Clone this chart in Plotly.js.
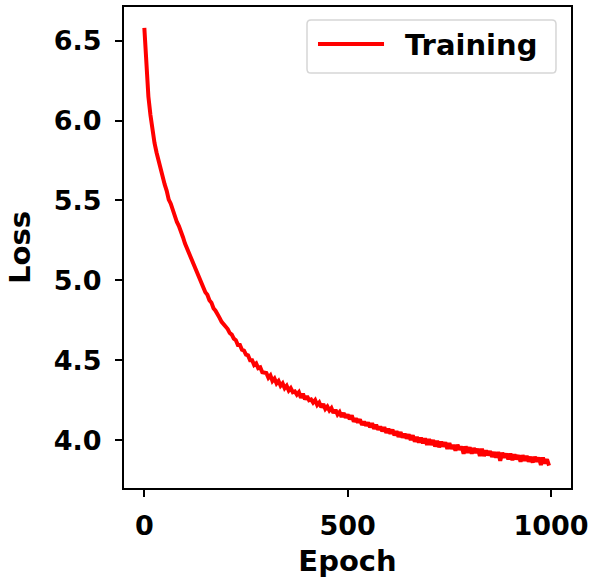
<!DOCTYPE html>
<html>
<head>
<meta charset="utf-8">
<script src="https://cdn.plot.ly/plotly-3.0.1.min.js"></script>
<style>html,body{margin:0;padding:0;background:#fff;}#chart{width:593px;height:579px;}</style>
</head>
<body>
<div id="chart"></div>
<script>
const lossValues = [
  6.580, 6.300, 6.150, 6.035, 5.925, 5.860, 5.800, 5.745, 5.690, 5.650,
  5.600, 5.560, 5.505, 5.480, 5.435, 5.410, 5.365, 5.340, 5.295, 5.270,
  5.230, 5.200, 5.165, 5.145, 5.105, 5.085, 5.045, 5.025, 4.980, 4.965,
  4.925, 4.910, 4.875, 4.860, 4.825, 4.810, 4.780, 4.765, 4.740, 4.725,
  4.705, 4.695, 4.670, 4.660, 4.635, 4.625, 4.595, 4.595, 4.565, 4.560,
  4.535, 4.530, 4.500, 4.500, 4.470, 4.480, 4.450, 4.455, 4.425, 4.420,
  4.420, 4.390, 4.405, 4.370, 4.385, 4.355, 4.370, 4.340, 4.355, 4.325,
  4.340, 4.310, 4.325, 4.300, 4.305, 4.285, 4.300, 4.265, 4.290, 4.255,
  4.275, 4.250, 4.255, 4.235, 4.250, 4.220, 4.235, 4.205, 4.225, 4.195,
  4.210, 4.185, 4.200, 4.170, 4.190, 4.160, 4.175, 4.145, 4.170, 4.140,
  4.160, 4.130, 4.155, 4.115, 4.135, 4.110, 4.130, 4.095, 4.115, 4.090,
  4.110, 4.080, 4.105, 4.070, 4.095, 4.065, 4.085, 4.055, 4.080, 4.045,
  4.070, 4.040, 4.065, 4.030, 4.055, 4.020, 4.050, 4.015, 4.040, 4.010,
  4.035, 4.000, 4.030, 3.990, 4.020, 3.985, 4.015, 3.980, 4.010, 3.970,
  4.005, 3.970, 4.000, 3.960, 3.995, 3.955, 3.990, 3.960, 3.985, 3.945,
  3.980, 3.945, 3.970, 3.935, 3.970, 3.940, 3.960, 3.915, 3.960, 3.920,
  3.955, 3.915, 3.950, 3.920, 3.945, 3.900, 3.945, 3.900, 3.935, 3.905,
  3.930, 3.895, 3.925, 3.890, 3.925, 3.870, 3.920, 3.890, 3.915, 3.880,
  3.915, 3.875, 3.910, 3.880, 3.905, 3.865, 3.905, 3.870, 3.900, 3.865,
  3.895, 3.860, 3.895, 3.865, 3.890, 3.845, 3.890, 3.855, 3.880, 3.840
];
const epochStep = 5;
const epochs = lossValues.map((_, i) => i * epochStep);

const xTickVals = [0, 500, 1000];
const xTickText = ['0', '500', '1000'];
const yTickVals = [4.0, 4.5, 5.0, 5.5, 6.0, 6.5];
const yTickText = ['4.0', '4.5', '5.0', '5.5', '6.0', '6.5'];
const seriesName = 'Training';

const FONT = 'DejaVu Sans, sans-serif';

const trace = {
  x: epochs, y: lossValues, type: 'scatter', mode: 'lines',
  name: seriesName, line: {color: '#ff0000', width: 4}, showlegend: false
};

// legend box (manual, matplotlib-style rounded frame)
const lx0 = 0.4094, lx1 = 0.9664, ly0 = 0.8627, ly1 = 0.9730;
const rx = 0.009, ry = 0.0085;
const boxPath = `M${lx0+rx},${ly1} L${lx1-rx},${ly1} Q${lx1},${ly1} ${lx1},${ly1-ry} L${lx1},${ly0+ry} Q${lx1},${ly0} ${lx1-rx},${ly0} L${lx0+rx},${ly0} Q${lx0},${ly0} ${lx0},${ly0+ry} L${lx0},${ly1-ry} Q${lx0},${ly1} ${lx0+rx},${ly1} Z`;

const layout = {
  width: 593, height: 579,
  margin: {l: 124, r: 22, t: 7, b: 91},
  paper_bgcolor: '#fff', plot_bgcolor: '#fff',
  showlegend: false,
  xaxis: {
    range: [-50, 1049], tickvals: xTickVals, ticktext: xTickText,
    showgrid: false, zeroline: false, showline: true, mirror: true,
    linecolor: '#000', linewidth: 2, ticks: 'outside', ticklen: 7, tickwidth: 2, tickcolor: '#000',
    tickfont: {family: FONT, size: 27, color: '#000', weight: 'bold'},
    ticklabelstandoff: 6,
    title: {text: '<b>Epoch</b>', font: {family: FONT, size: 29, color: '#000'}, standoff: 10},
    automargin: false
  },
  yaxis: {
    range: [3.700, 6.711], tickvals: yTickVals, ticktext: yTickText,
    showgrid: false, zeroline: false, showline: true, mirror: true,
    linecolor: '#000', linewidth: 2, ticks: 'outside', ticklen: 7, tickwidth: 2, tickcolor: '#000',
    tickfont: {family: FONT, size: 27, color: '#000', weight: 'bold'},
    ticklabelstandoff: 8,
    title: {text: '<b>Loss</b>', font: {family: FONT, size: 29, color: '#000'}, standoff: 15},
    automargin: false
  },
  shapes: [
    {type: 'path', xref: 'paper', yref: 'paper', path: boxPath,
     line: {color: '#d6d6d6', width: 1.5}, fillcolor: 'rgba(255,255,255,0.8)', layer: 'above'},
    {type: 'line', xref: 'paper', yref: 'paper', x0: 0.434, x1: 0.5817, y0: 0.923, y1: 0.923,
     line: {color: '#ff0000', width: 4}, layer: 'above'}
  ],
  annotations: [
    {xref: 'paper', yref: 'paper', x: 0.624, y: 0.921, xanchor: 'left', yanchor: 'middle',
     text: '<b>' + seriesName + '</b>', showarrow: false,
     font: {family: FONT, size: 29, color: '#000'}}
  ]
};

Plotly.newPlot('chart', [trace], layout, {displayModeBar: false, staticPlot: true});
</script>
</body>
</html>
